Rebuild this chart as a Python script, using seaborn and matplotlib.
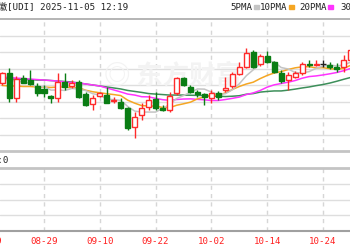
import matplotlib
matplotlib.use("Agg")
import matplotlib.pyplot as plt
import seaborn as sns
import numpy as np
import pandas as pd

# ---------------- data ----------------
opens = [3.610, 3.675, 3.519, 3.641, 3.633, 3.594, 3.574, 3.535, 3.519, 3.620,
         3.594, 3.616, 3.544, 3.485, 3.533, 3.539, 3.503, 3.499, 3.459, 3.347,
         3.418, 3.468, 3.513, 3.462, 3.448, 3.550, 3.641, 3.586, 3.559, 3.544,
         3.519, 3.553, 3.570, 3.594, 3.667, 3.711, 3.802, 3.725, 3.776, 3.741,
         3.675, 3.630, 3.650, 3.675, 3.725, 3.719, 3.725, 3.721, 3.711, 3.711,
         3.752]
highs = [3.681, 3.701, 3.656, 3.661, 3.691, 3.610, 3.600, 3.539, 3.671, 3.675,
         3.630, 3.630, 3.559, 3.539, 3.559, 3.586, 3.529, 3.519, 3.468, 3.438,
         3.493, 3.539, 3.559, 3.479, 3.559, 3.650, 3.650, 3.600, 3.570, 3.553,
         3.570, 3.564, 3.650, 3.681, 3.741, 3.822, 3.812, 3.788, 3.808, 3.747,
         3.691, 3.681, 3.687, 3.738, 3.752, 3.752, 3.752, 3.741, 3.732, 3.782,
         3.830]
lows = [3.600, 3.499, 3.499, 3.610, 3.600, 3.533, 3.529, 3.493, 3.499, 3.570,
        3.580, 3.519, 3.473, 3.448, 3.529, 3.489, 3.489, 3.453, 3.327, 3.277,
        3.388, 3.448, 3.448, 3.442, 3.438, 3.539, 3.594, 3.550, 3.529, 3.479,
        3.493, 3.509, 3.559, 3.580, 3.661, 3.701, 3.701, 3.715, 3.732, 3.671,
        3.614, 3.570, 3.641, 3.661, 3.707, 3.715, 3.707, 3.695, 3.681, 3.681,
        3.739]
closes = [3.675, 3.519, 3.635, 3.614, 3.609, 3.550, 3.553, 3.519, 3.620, 3.590,
          3.614, 3.529, 3.479, 3.523, 3.550, 3.493, 3.509, 3.459, 3.341, 3.408,
          3.462, 3.509, 3.459, 3.448, 3.533, 3.641, 3.600, 3.559, 3.545, 3.529,
          3.550, 3.529, 3.580, 3.667, 3.707, 3.796, 3.707, 3.776, 3.741, 3.681,
          3.626, 3.661, 3.675, 3.725, 3.719, 3.725, 3.725, 3.711, 3.695, 3.752,
          3.812]

ma5 = [3.636, 3.630, 3.624, 3.618, 3.610, 3.585, 3.592, 3.569, 3.570, 3.567,
       3.579, 3.575, 3.566, 3.547, 3.539, 3.515, 3.511, 3.507, 3.470, 3.442,
       3.436, 3.436, 3.436, 3.458, 3.482, 3.518, 3.536, 3.556, 3.576, 3.575,
       3.557, 3.542, 3.547, 3.571, 3.607, 3.656, 3.692, 3.730, 3.745, 3.740,
       3.706, 3.697, 3.676, 3.673, 3.681, 3.701, 3.714, 3.721, 3.715, 3.722,
       3.739]
ma10 = [3.597, 3.594, 3.594, 3.591, 3.591, 3.588, 3.588, 3.585, 3.588, 3.588,
        3.582, 3.583, 3.568, 3.559, 3.553, 3.547, 3.542, 3.536, 3.508, 3.490,
        3.475, 3.473, 3.472, 3.464, 3.462, 3.477, 3.486, 3.496, 3.516, 3.528,
        3.538, 3.539, 3.552, 3.573, 3.591, 3.606, 3.617, 3.639, 3.658, 3.673,
        3.681, 3.694, 3.704, 3.710, 3.711, 3.704, 3.705, 3.699, 3.695, 3.701,
        3.720]
ma20 = [3.648, 3.645, 3.642, 3.639, 3.636, 3.633, 3.630, 3.627, 3.624, 3.618,
        3.615, 3.612, 3.606, 3.600, 3.594, 3.582, 3.570, 3.558, 3.545, 3.539,
        3.529, 3.528, 3.519, 3.511, 3.507, 3.512, 3.515, 3.516, 3.513, 3.510,
        3.506, 3.506, 3.512, 3.519, 3.527, 3.542, 3.552, 3.567, 3.587, 3.601,
        3.609, 3.617, 3.627, 3.641, 3.651, 3.655, 3.661, 3.668, 3.676, 3.687,
        3.701]
ma30 = [3.636, 3.636, 3.636, 3.633, 3.633, 3.630, 3.630, 3.627, 3.624, 3.621,
        3.618, 3.612, 3.606, 3.600, 3.594, 3.588, 3.582, 3.576, 3.567, 3.561,
        3.555, 3.548, 3.545, 3.542, 3.539, 3.539, 3.539, 3.538, 3.537, 3.536,
        3.532, 3.532, 3.530, 3.532, 3.535, 3.544, 3.548, 3.557, 3.561, 3.564,
        3.564, 3.569, 3.575, 3.582, 3.588, 3.596, 3.603, 3.612, 3.623, 3.635,
        3.646]

date_labels = ["08-19", "08-29", "09-10", "09-22", "10-02", "10-14", "10-24"]
date_index = [-2, 6, 14, 22, 30, 38, 46]
title_text = "徽[UDI] 2025-11-05 12:19"
legend_names = ["5PMA", "10PMA", "20PMA", "30PMA"]
ma_colors = ["#c4c4c4", "#f5a623", "#ff33ff", "#3d8f5a"]
volume_text = "成交量:0"

# ---------------- figure ----------------
sns.set_theme(style="white")
plt.rcParams["font.family"] = ["DejaVu Sans Mono", "Noto Sans CJK SC"]

W, H = 350, 250
fig = plt.figure(figsize=(W / 100, H / 100), dpi=100)
fig.patch.set_facecolor("white")

def fx(px):
    return px / W

def fy(py):
    return 1 - py / H

ax = fig.add_axes([0, fy(151), 1, (151 - 19) / H])
axv = fig.add_axes([0, fy(231), 1, (231 - 168) / H])

n = len(closes)
idx = np.arange(n)
xlim = (-0.308, 49.87)

df = pd.DataFrame({"i": idx, "open": opens, "high": highs, "low": lows,
                   "close": closes, "ma5": ma5, "ma10": ma10,
                   "ma20": ma20, "ma30": ma30})

grid_c = "#dedede"
for a in (ax, axv):
    a.set_xlim(*xlim)
    a.set_xticks([])
    a.set_yticks([])
    a.set_facecolor("white")
    for s in a.spines.values():
        s.set_visible(False)
    for k in date_index:
        a.axvline(k, color="#d6d6d6", lw=1, dashes=(3, 3), zorder=0)

ax.set_ylim(3.2, 4.0)
for g in np.arange(3.3, 3.95, 0.1):
    ax.axhline(g, color=grid_c, lw=1, zorder=0)
ax.spines["top"].set_visible(True)
ax.spines["top"].set_color("#a8a8a8")
ax.spines["top"].set_linewidth(1.2)
ax.spines["bottom"].set_visible(True)
ax.spines["bottom"].set_color("#c4c4c4")
ax.spines["bottom"].set_linewidth(2)

axv.set_ylim(0, 4)
for g in [1, 2, 3]:
    axv.axhline(g, color=grid_c, lw=1, zorder=0)
axv.spines["top"].set_visible(True)
axv.spines["top"].set_color("#c4c4c4")
axv.spines["top"].set_linewidth(2)
axv.spines["bottom"].set_visible(True)
axv.spines["bottom"].set_color("#a0a0a0")
axv.spines["bottom"].set_linewidth(1.5)

# watermark
ax.text(24.5, 3.655, "◎ 东方财富", color="#f3f3f3", fontsize=19,
        ha="center", va="center", zorder=0.5,
        family=["Noto Sans CJK SC", "DejaVu Sans"], fontweight="bold")

# moving averages
for col, c in zip(["ma30", "ma20", "ma10", "ma5"], ma_colors[::-1]):
    sns.lineplot(data=df, x="i", y=col, ax=ax, color=c, lw=1.1, zorder=3)

# candles
red = "#ff2a2a"
green = "#0a7d14"
bw = 0.72
for i, o, h, l, c in zip(idx, opens, highs, lows, closes):
    if c > o:
        col, fc = red, "white"
    elif c < o:
        col, fc = green, green
    else:
        col, fc = "#222222", "#222222"
    ax.vlines(i, l, h, color=col, lw=1, zorder=4)
    if c == o:
        ax.hlines(c, i - bw / 2, i + bw / 2, color=col, lw=1, zorder=5)
    else:
        ax.bar(i, c - o, bottom=o, width=bw, color=fc, edgecolor=col,
               linewidth=1, zorder=5)
ax.set_xlabel("")
ax.set_ylabel("")
ax.set_xlim(*xlim)
ax.set_ylim(3.2, 4.0)

# title and legend
fs = 6.6
fig.text(fx(-1.5), fy(7), title_text, fontsize=fs, color="#222222",
         ha="left", va="center")
leg_x = [230, 260, 299, 340]
for name, c, x0 in zip(legend_names, ma_colors, leg_x):
    fig.text(fx(x0), fy(7), name, fontsize=fs, color="#222222",
             ha="left", va="center")
    mx = x0 + len(name) * 5.5 + 1.5
    fig.patches.append(plt.Rectangle((fx(mx), fy(8.5)), fx(5), 3 / H,
                                     transform=fig.transFigure,
                                     color=c, zorder=5))

# volume label
fig.text(fx(8.8), fy(160), volume_text, fontsize=fs, color="#222222",
         ha="right", va="center")

# date labels
for k, lab in zip(date_index, date_labels):
    xp = 2.15 + 6.975 * k
    fig.text(fx(xp), fy(241), lab, fontsize=fs, color="#ff2020",
             ha="center", va="center")

fig.savefig("out.png", dpi=100, facecolor="white")
